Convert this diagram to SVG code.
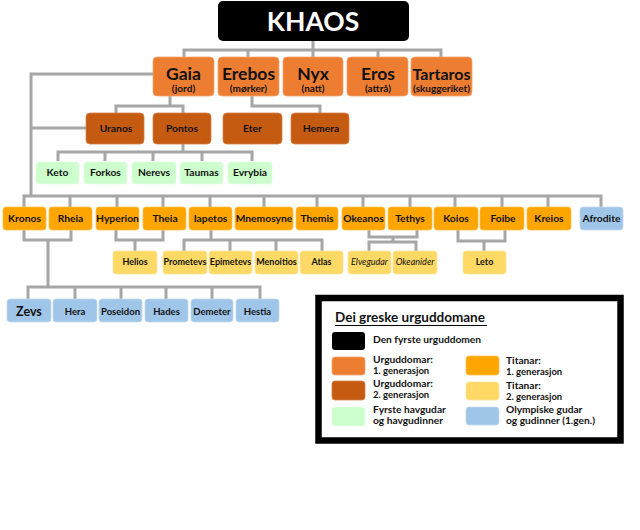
<svg xmlns="http://www.w3.org/2000/svg" width="640" height="530" viewBox="0 0 640 530">
<style>
text{font-family:Lato,"Open Sans","DejaVu Sans",sans-serif;font-weight:700;fill:#111;text-anchor:middle}
.c{fill:none;stroke:#a6a6a6;stroke-width:3}
.k{fill:#000}
.o1{fill:#ed7d31;stroke:#f4a46e;stroke-width:0.8}
.o2{fill:#c55a11;stroke:#d98048;stroke-width:0.8}
.sea{fill:#ccffcc;stroke:#e2ffe2;stroke-width:0.8}
.t1{fill:#ffa500;stroke:#ffc04d;stroke-width:0.8}
.t2{fill:#ffd966;stroke:#ffe699;stroke-width:0.8}
.ol{fill:#9fc5e8;stroke:#c3daf0;stroke-width:0.8}
.big{font-size:17.5px}
.sub{font-size:10px}
.m{font-size:10.3px}
.s{font-size:9px}
.it{font-size:9px;font-style:italic;font-weight:400}
.lg{font-size:10.2px;text-anchor:start}
.lg2{font-size:9.5px;text-anchor:start}
</style>
<rect width="640" height="530" fill="#fff"/>
<g id="connectors" class="c">
<path d="M313 41 V57 M184 57 V50 H441 V57 M248 50 V57 M378 50 V57"/>
<path d="M153 74 H31 V196 M31 128 H86"/>
<path d="M170 96 V106 M116 113 V106 H183 V113"/>
<path d="M252 96 V106 H320 V113"/>
<path d="M183 144 V152 M58 161 V152 H252 V161 M105 152 V161 M153 152 V161 M202 152 V161"/>
<path d="M24 207 V196 H601 V207 M70 196 V207 M117 196 V207 M163 196 V207 M210 196 V207 M264 196 V207 M317 196 V207 M363 196 V207 M410 196 V207 M455 196 V207 M502 196 V207 M548 196 V207"/>
<path d="M24 230 V240 H71 V230 M48 240 V287 M28 299 V287 H260 V299 M75 287 V299 M121 287 V299 M166 287 V299 M212 287 V299"/>
<path d="M116 230 V240 H163 V230 M135 240 V251"/>
<path d="M211 230 V240 M184 251 V240 H322 V251 M230 240 V251 M276 240 V251"/>
<path d="M369 230 V237 H417 V230 M393 237 V242 M369 251 V242 H416 V251"/>
<path d="M458 230 V241 H505 V230 M484 241 V251"/>
</g>
<g id="khaos"><rect class="k" x="218" y="1" width="191" height="40" rx="5"/><text x="313" y="31" style="font-size:26.5px;fill:#fff">KHAOS</text></g>
<g id="gaia"><rect class="o1" x="153" y="57" width="61" height="39" rx="4"/><text class="big" x="183.5" y="79.5">Gaia</text><text class="sub" x="183.5" y="92">(jord)</text></g>
<g id="erebos"><rect class="o1" x="218" y="57" width="61" height="39" rx="4"/><text class="big" x="248.5" y="79.5">Erebos</text><text class="sub" x="248.5" y="92">(mørker)</text></g>
<g id="nyx"><rect class="o1" x="283" y="57" width="60" height="39" rx="4"/><text class="big" x="313" y="79.5">Nyx</text><text class="sub" x="313" y="92">(natt)</text></g>
<g id="eros"><rect class="o1" x="347" y="57" width="61" height="39" rx="4"/><text class="big" x="378" y="79.5">Eros</text><text class="sub" x="378" y="92">(attrå)</text></g>
<g id="tartaros"><rect class="o1" x="411" y="57" width="61" height="39" rx="4"/><text class="big" x="441.5" y="79.5" style="font-size:16px">Tartaros</text><text class="sub" x="441.5" y="92">(skuggeriket)</text></g>
<g id="uranos"><rect class="o2" x="86" y="113" width="58" height="31" rx="4"/><text class="m" x="116" y="132">Uranos</text></g>
<g id="pontos"><rect class="o2" x="153" y="113" width="58" height="31" rx="4"/><text class="m" x="182" y="132">Pontos</text></g>
<g id="eter"><rect class="o2" x="223" y="113" width="59" height="31" rx="4"/><text class="m" x="252.5" y="132">Eter</text></g>
<g id="hemera"><rect class="o2" x="291" y="113" width="58" height="31" rx="4"/><text class="m" x="321" y="132">Hemera</text></g>
<g id="keto"><rect class="sea" x="36" y="162" width="43" height="22" rx="3"/><text class="m" x="57.5" y="176">Keto</text></g>
<g id="forkos"><rect class="sea" x="84" y="162" width="43" height="22" rx="3"/><text class="m" x="105.5" y="176">Forkos</text></g>
<g id="nerevs"><rect class="sea" x="132" y="162" width="44" height="22" rx="3"/><text class="m" x="154" y="176">Nerevs</text></g>
<g id="taumas"><rect class="sea" x="180" y="162" width="43" height="22" rx="3"/><text class="m" x="201.5" y="176">Taumas</text></g>
<g id="evrybia"><rect class="sea" x="228" y="162" width="44" height="22" rx="3"/><text class="m" x="250" y="176">Evrybia</text></g>
<g id="kronos"><rect class="t1" x="3" y="207" width="43" height="23" rx="3"/><text class="m" x="24.5" y="222">Kronos</text></g>
<g id="rheia"><rect class="t1" x="49" y="207" width="43" height="23" rx="3"/><text class="m" x="70.5" y="222">Rheia</text></g>
<g id="hyperion"><rect class="t1" x="96" y="207" width="43" height="23" rx="3"/><text class="m" x="117.5" y="222">Hyperion</text></g>
<g id="theia"><rect class="t1" x="143" y="207" width="43" height="23" rx="3"/><text class="m" x="165" y="222">Theia</text></g>
<g id="iapetos"><rect class="t1" x="189" y="207" width="43" height="23" rx="3"/><text class="m" x="210.5" y="222">Iapetos</text></g>
<g id="mnemosyne"><rect class="t1" x="235" y="207" width="58" height="23" rx="3"/><text class="m" x="264" y="222">Mnemosyne</text></g>
<g id="themis"><rect class="t1" x="296" y="207" width="42" height="23" rx="3"/><text class="m" x="317" y="222">Themis</text></g>
<g id="okeanos"><rect class="t1" x="342" y="207" width="43" height="23" rx="3"/><text class="m" x="363.5" y="222">Okeanos</text></g>
<g id="tethys"><rect class="t1" x="388" y="207" width="44" height="23" rx="3"/><text class="m" x="410" y="222">Tethys</text></g>
<g id="koios"><rect class="t1" x="434" y="207" width="44" height="23" rx="3"/><text class="m" x="456" y="222">Koios</text></g>
<g id="foibe"><rect class="t1" x="480" y="207" width="44" height="23" rx="3"/><text class="m" x="503" y="222">Foibe</text></g>
<g id="kreios"><rect class="t1" x="527" y="207" width="44" height="23" rx="3"/><text class="m" x="549" y="222">Kreios</text></g>
<g id="afrodite"><rect class="ol" x="580" y="207" width="43" height="23" rx="3"/><text class="m" x="601.5" y="222">Afrodite</text></g>
<g id="helios"><rect class="t2" x="113" y="251" width="44" height="23" rx="3"/><text class="s" x="135" y="265">Helios</text></g>
<g id="prometevs"><rect class="t2" x="163" y="251" width="44" height="23" rx="3"/><text class="s" x="185" y="265">Prometevs</text></g>
<g id="epimetevs"><rect class="t2" x="209" y="251" width="43" height="23" rx="3"/><text class="s" x="230.5" y="265">Epimetevs</text></g>
<g id="menoitios"><rect class="t2" x="255" y="251" width="43" height="23" rx="3"/><text class="s" x="276.5" y="265">Menoitios</text></g>
<g id="atlas"><rect class="t2" x="300" y="251" width="43" height="23" rx="3"/><text class="s" x="321.5" y="265">Atlas</text></g>
<g id="elvegudar"><rect class="t2" x="348" y="251" width="43" height="23" rx="3"/><text class="it" x="369.5" y="265">Elvegudar</text></g>
<g id="okeanider"><rect class="t2" x="393" y="251" width="44" height="23" rx="3"/><text class="it" x="415" y="265">Okeanider</text></g>
<g id="leto"><rect class="t2" x="463" y="251" width="43" height="23" rx="3"/><text class="s" x="484.5" y="265">Leto</text></g>
<g id="zevs"><rect class="ol" x="7" y="299" width="44" height="23" rx="3"/><text x="29" y="315.5" style="font-size:12.5px">Zevs</text></g>
<g id="hera"><rect class="ol" x="53" y="299" width="44" height="23" rx="3"/><text x="75" y="315" style="font-size:9.5px">Hera</text></g>
<g id="poseidon"><rect class="ol" x="99" y="299" width="43" height="23" rx="3"/><text x="120.5" y="315" style="font-size:9.5px">Poseidon</text></g>
<g id="hades"><rect class="ol" x="145" y="299" width="43" height="23" rx="3"/><text x="166.5" y="315" style="font-size:9.5px">Hades</text></g>
<g id="demeter"><rect class="ol" x="191" y="299" width="42" height="23" rx="3"/><text x="212" y="315" style="font-size:9.5px">Demeter</text></g>
<g id="hestia"><rect class="ol" x="236" y="299" width="43" height="23" rx="3"/><text x="257.5" y="315" style="font-size:9.5px">Hestia</text></g>
<g id="legend">
<rect x="318.5" y="298" width="302" height="142.5" fill="#fff" stroke="#000" stroke-width="6.5"/>
<text x="335" y="322" style="font-size:13.5px;text-anchor:start">Dei greske urguddomane</text>
<line x1="335" y1="325.5" x2="487" y2="325.5" stroke="#000" stroke-width="1.2"/>
<rect class="k" x="332" y="332" width="33" height="18" rx="3"/>
<text class="lg" x="373" y="343">Den fyrste urguddomen</text>
<rect class="o1" x="332" y="357" width="33" height="18" rx="3"/>
<text class="lg" x="373" y="362.5">Urguddomar:</text><text class="lg2" x="373" y="374">1. generasjon</text>
<rect class="o2" x="332" y="381" width="33" height="19" rx="3"/>
<text class="lg" x="373" y="386.5">Urguddomar:</text><text class="lg2" x="373" y="398">2. generasjon</text>
<rect class="sea" x="332" y="407" width="33" height="19" rx="3"/>
<text class="lg" x="373" y="412.5">Fyrste havgudar</text><text class="lg" x="373" y="424">og havgudinner</text>
<rect class="t1" x="466" y="356" width="33" height="19" rx="3"/>
<text class="lg" x="506" y="363.5">Titanar:</text><text class="lg2" x="506" y="375">1. generasjon</text>
<rect class="t2" x="466" y="382" width="33" height="18" rx="3"/>
<text class="lg" x="506" y="388.5">Titanar:</text><text class="lg2" x="506" y="400">2. generasjon</text>
<rect class="ol" x="466" y="407" width="33" height="18" rx="3"/>
<text class="lg" x="506" y="412.5">Olympiske gudar</text><text class="lg" x="506" y="424">og gudinner (1.gen.)</text>
</g>
</svg>
